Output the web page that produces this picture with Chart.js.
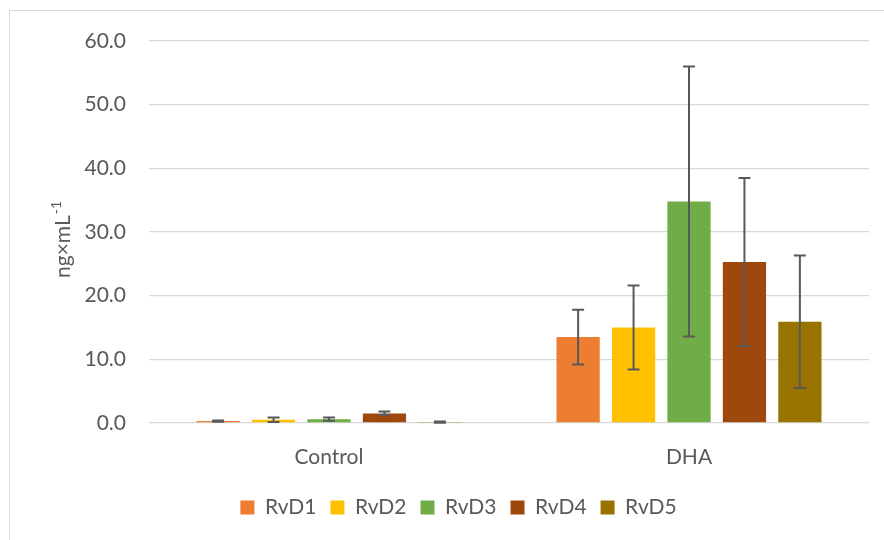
<!DOCTYPE html>
<html>
<head>
<meta charset="utf-8">
<script src="https://cdn.jsdelivr.net/npm/chart.js@4.4.1/dist/chart.umd.min.js"></script>
<style>
  html, body { margin: 0; padding: 0; background: #fff; overflow: hidden; }
  #wrap { position: relative; width: 884px; height: 540px; }
  #frame { position: absolute; left: 9px; top: 10px; width: 900px; height: 560px; border: 1.5px solid #d9d9d9; box-sizing: border-box; }
  #c { position: absolute; left: 0; top: 0; }
</style>
</head>
<body>
<div id="wrap">
  <div id="frame"></div>
  <canvas id="c" width="884" height="540"></canvas>
</div>
<script>
// categories and series
const groups = ['Control', 'DHA'];
const seriesNames = ['RvD1', 'RvD2', 'RvD3', 'RvD4', 'RvD5'];
const rvd1 = [0.3, 13.5];
const rvd2 = [0.5, 15.0];
const rvd3 = [0.6, 34.8];
const rvd4 = [1.5, 25.3];
const rvd5 = [0.15, 15.9];
// +/- error (symmetric)
const rvd1Err = [0.1, 4.3];
const rvd2Err = [0.35, 6.6];
const rvd3Err = [0.25, 21.2];
const rvd4Err = [0.3, 13.2];
const rvd5Err = [0.1, 10.4];
const yTicks = [0, 10, 20, 30, 40, 50, 60];

const colors = ['#ED7D31', '#FFC000', '#70AD47', '#9E480E', '#997300'];
const values = [rvd1, rvd2, rvd3, rvd4, rvd5];
const errors = [rvd1Err, rvd2Err, rvd3Err, rvd4Err, rvd5Err];

const FONT = 'Lato, "Open Sans", sans-serif';
const GREY = '#595959';
const SIZE = 21;

// draws the whiskers on top of each bar
const errorBars = {
  id: 'errorBars',
  afterDatasetsDraw(chart) {
    const ctx = chart.ctx;
    const y = chart.scales.y;
    ctx.save();
    ctx.strokeStyle = GREY;
    ctx.lineWidth = 2;
    chart.data.datasets.forEach((ds, i) => {
      const meta = chart.getDatasetMeta(i);
      meta.data.forEach((bar, j) => {
        const v = ds.data[j], e = ds.err[j];
        const top = y.getPixelForValue(v + e);
        const bot = y.getPixelForValue(Math.max(0, v - e));
        const x = bar.x;
        ctx.beginPath();
        ctx.moveTo(x, top); ctx.lineTo(x, bot);
        ctx.moveTo(x - 6, top); ctx.lineTo(x + 6, top);
        ctx.moveTo(x - 6, bot); ctx.lineTo(x + 6, bot);
        ctx.stroke();
      });
    });
    ctx.restore();
  }
};

// y title with a real superscript (ng×mL-1)
const yTitle = {
  id: 'yTitle',
  afterDraw(chart) {
    const ctx = chart.ctx;
    const area = chart.chartArea;
    const main = 'ng×mL', sup = '-1';
    ctx.save();
    ctx.fillStyle = GREY;
    ctx.font = SIZE + 'px ' + FONT;
    const w1 = ctx.measureText(main).width;
    ctx.font = Math.round(SIZE * 0.65) + 'px ' + FONT;
    const w2 = ctx.measureText(sup).width;
    const cy = (area.top + area.bottom) / 2 + 8;
    ctx.translate(70, cy + (w1 + w2) / 2);
    ctx.rotate(-Math.PI / 2);
    ctx.textBaseline = 'alphabetic';
    ctx.textAlign = 'left';
    ctx.font = SIZE + 'px ' + FONT;
    ctx.fillText(main, 0, 0);
    ctx.font = Math.round(SIZE * 0.65) + 'px ' + FONT;
    ctx.fillText(sup, w1 + 1, -SIZE * 0.45);
    ctx.restore();
  }
};

new Chart(document.getElementById('c'), {
  type: 'bar',
  data: {
    labels: groups,
    datasets: seriesNames.map((name, i) => ({
      label: name,
      data: values[i],
      err: errors[i],
      backgroundColor: colors[i],
      borderWidth: 0,
      barPercentage: 0.78,
      categoryPercentage: 0.77
    }))
  },
  options: {
    responsive: false,
    animation: false,
    layout: { padding: { top: 41, right: 15, bottom: 12, left: 48 } },
    scales: {
      x: {
        grid: { display: false, drawTicks: false },
        border: { display: false },
        ticks: { color: GREY, font: { family: FONT, size: SIZE }, padding: 22 },
        afterFit: (s) => { s.height = 60; }
      },
      y: {
        min: 0,
        max: 60,
        afterBuildTicks: (s) => { s.ticks = yTicks.map(v => ({ value: v })); },
        grid: { color: '#d9d9d9', lineWidth: 1.3, drawTicks: false },
        border: { display: false },
        ticks: {
          color: GREY,
          font: { family: FONT, size: SIZE },
          padding: 23,
          callback: (v) => Number(v).toFixed(1)
        },
        afterFit: (s) => { s.width = 101; }
      }
    },
    plugins: {
      legend: {
        position: 'bottom',
        labels: {
          color: GREY,
          font: { family: FONT, size: SIZE },
          boxWidth: 14,
          boxHeight: 14,
          padding: 14
        }
      },
      tooltip: { enabled: false }
    }
  },
  plugins: [errorBars, yTitle]
});
</script>
</body>
</html>
